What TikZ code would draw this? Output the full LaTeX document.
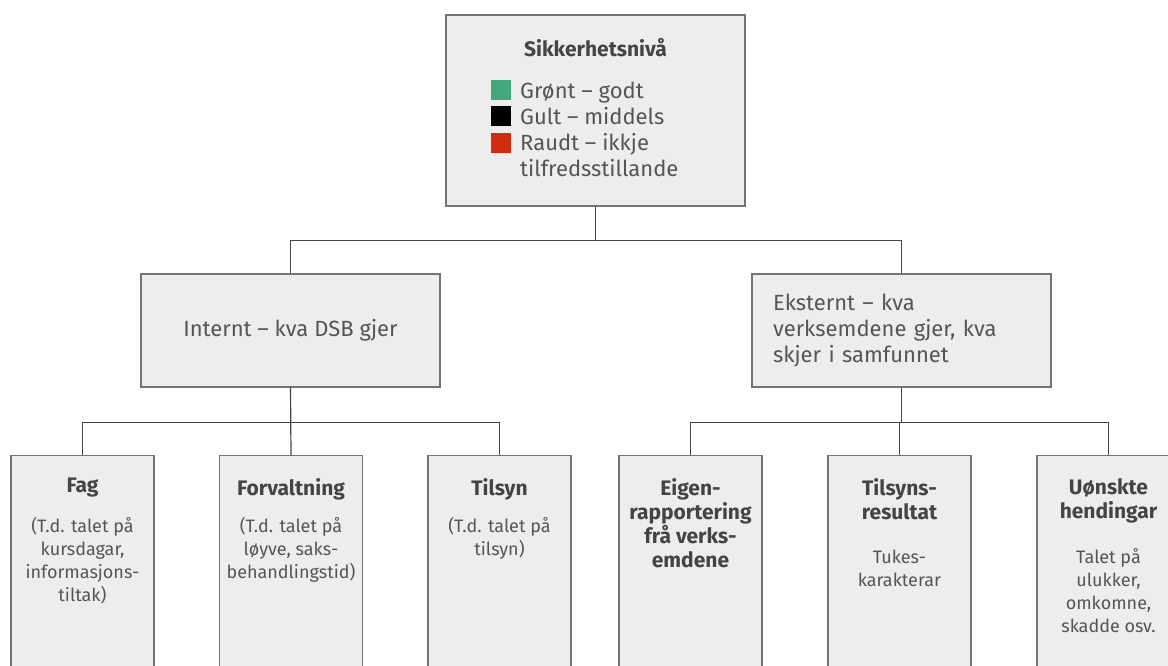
\documentclass[tikz,border=0pt]{standalone}
\usepackage{fontspec}
\setmainfont{Fira Sans}
\usetikzlibrary{positioning}

\definecolor{boxfill}{HTML}{EDEDED}
\definecolor{boxline}{HTML}{737373}
\definecolor{inktext}{HTML}{555555}
\definecolor{darktext}{HTML}{444444}
\definecolor{levelgreen}{HTML}{41A87B}
\definecolor{levelred}{HTML}{D12B14}

\tikzset{
  box/.style={draw=boxline, fill=boxfill, line width=1.2pt, inner sep=0pt},
  widebox/.style={box, minimum width=299pt, minimum height=113pt},
  leafbox/.style={box, minimum width=143pt, minimum height=260pt, anchor=north},
  link/.style={draw=darktext, line width=1.2pt},
  maintext/.style={font=\fontsize{22}{26}\selectfont, text=inktext},
  head/.style={font=\fontsize{21}{24}\selectfont\bfseries, text=darktext,
    align=center, inner sep=0pt, anchor=north},
  desc/.style={font=\fontsize{18}{23}\selectfont, text=inktext,
    align=center, inner sep=0pt, anchor=north},
  swatch/.style={minimum size=20pt, inner sep=0pt},
}

\begin{document}
\begin{tikzpicture}[x=1pt,y=-1pt]
  \useasboundingbox (0,0) rectangle (1168,666);

  % level box
  \node[box, minimum width=299pt, minimum height=191pt] (level) at (595.5,110.5) {};
  \node[head] (leveltitle) at (595.5,38) {Sikkerhetsnivå};
  \node[swatch, fill=levelgreen] (green) at (501,90.5) {};
  \node[swatch, fill=black] (yellow) at (501,116) {};
  \node[swatch, fill=levelred] (red) at (501,143.5) {};
  \node[maintext, align=left, inner sep=0pt, anchor=north west] (legend) at (520,82)
    {Grønt – godt\\Gult – middels\\Raudt – ikkje\\tilfredsstillande};

  % internal / external
  \node[widebox, maintext] (internal) at (290.5,330.5) {Internt – kva DSB gjer};
  \node[widebox, maintext, align=left, text width=257pt] (external) at (901.5,330.5)
    {Eksternt – kva\\verksemdene gjer, kva\\skjer i samfunnet};

  % leaves
  \node[leafbox] (fag) at (82.5,455) {};
  \node[leafbox] (admin) at (291,455) {};
  \node[leafbox] (audit) at (499.5,455) {};
  \node[leafbox] (selfrep) at (690.5,455) {};
  \node[leafbox] (auditres) at (899.5,455) {};
  \node[leafbox] (incidents) at (1108.5,455) {};

  \node[head] (fagtitle) at (82.5,478) {Fag};
  \node[desc] (fagtext) at (82.5,517) {(T.d. talet på\\kursdagar,\\informasjons-\\tiltak)};
  \node[head] (admintitle) at (291,478) {Forvaltning};
  \node[desc] (admintext) at (291,517) {(T.d. talet på\\løyve, saks-\\behandlingstid)};
  \node[head] (audittitle) at (499.5,478) {Tilsyn};
  \node[desc] (audittext) at (499.5,517) {(T.d. talet på\\tilsyn)};
  \node[head] (selfreptitle) at (690.5,478) {Eigen-\\rapportering\\frå verks-\\emdene};
  \node[head] (auditrestitle) at (899.5,478) {Tilsyns-\\resultat};
  \node[desc] (auditrestext) at (899.5,550) {Tukes-\\karakterar};
  \node[head] (incidentstitle) at (1108.5,478) {Uønskte\\hendingar};
  \node[desc] (incidentstext) at (1108.5,548) {Talet på\\ulukker,\\omkomne,\\skadde osv.};

  % connectors
  \draw[link] (level.south) -- ++(0,34) -| (internal.north);
  \draw[link] (level.south) -- ++(0,34) -| (external.north);
  \draw[link] (internal.south) -- ++(0,35) -| (fag.north);
  \draw[link] (internal.south) -- (admin.north);
  \draw[link] (internal.south) -- ++(0,35) -| (audit.north);
  \draw[link] (external.south) -- ++(0,35) -| (selfrep.north);
  \draw[link] (external.south) -- ++(0,35) -| (auditres.north);
  \draw[link] (external.south) -- ++(0,35) -| (incidents.north);
\end{tikzpicture}
\end{document}
